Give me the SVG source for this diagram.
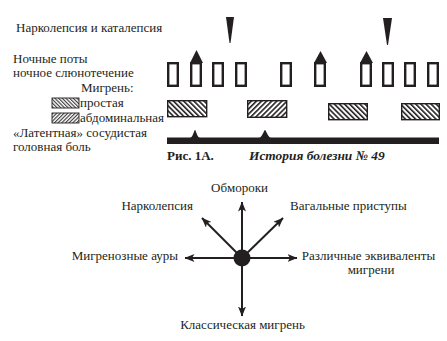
<svg xmlns="http://www.w3.org/2000/svg" width="447" height="341" viewBox="0 0 447 341">
<style>
text{font-family:"Liberation Serif","Times New Roman",serif;font-size:13px;fill:#231f20}
.cap{font-weight:bold;font-size:13px}
.capi{font-weight:bold;font-style:italic;font-size:13.4px}
.ep{fill:#fff;stroke:#231f20;stroke-width:2.4}
.tri{fill:#231f20}
.hs{fill:url(#hS);stroke:#231f20;stroke-width:1.4}
.ha{fill:url(#hA);stroke:#231f20;stroke-width:1.4}
.ls{fill:url(#lS);stroke:#231f20;stroke-width:0.9}
.la{fill:url(#lA);stroke:#231f20;stroke-width:0.9}
.arr{stroke:#231f20;stroke-width:2;fill:none;marker-end:url(#ah)}
</style>
<defs>
<pattern id="hS" width="3.6" height="3.6" patternUnits="userSpaceOnUse" patternTransform="rotate(-45)"><rect width="3.6" height="3.6" fill="#fff"/><line x1="0.8" y1="0" x2="0.8" y2="3.6" stroke="#231f20" stroke-width="1.6"/></pattern>
<pattern id="hA" width="3.6" height="3.6" patternUnits="userSpaceOnUse" patternTransform="rotate(45)"><rect width="3.6" height="3.6" fill="#fff"/><line x1="0.8" y1="0" x2="0.8" y2="3.6" stroke="#231f20" stroke-width="1.6"/></pattern>
<pattern id="lS" width="2.6" height="2.6" patternUnits="userSpaceOnUse" patternTransform="rotate(-45)"><rect width="2.6" height="2.6" fill="#fff"/><line x1="0.6" y1="0" x2="0.6" y2="2.6" stroke="#231f20" stroke-width="1"/></pattern>
<pattern id="lA" width="2.6" height="2.6" patternUnits="userSpaceOnUse" patternTransform="rotate(45)"><rect width="2.6" height="2.6" fill="#fff"/><line x1="0.6" y1="0" x2="0.6" y2="2.6" stroke="#231f20" stroke-width="1"/></pattern>
<marker id="ah" viewBox="0 0 10 8" refX="9.5" refY="4" markerWidth="10" markerHeight="8" markerUnits="userSpaceOnUse" orient="auto"><path d="M0,0 L10,4 L0,8 L2.5,4 Z" fill="#231f20"/></marker>
</defs>
<rect width="447" height="341" fill="#fff"/>

<g id="legend">
<text x="16" y="32">Нарколепсия и каталепсия</text>
<text x="13" y="63">Ночные поты</text>
<text x="13" y="77">ночное слюнотечение</text>
<text x="81" y="92">Мигрень:</text>
<rect class="ls" x="52" y="98" width="27" height="10"/>
<text x="80" y="107">простая</text>
<rect class="la" x="52" y="113" width="27" height="10"/>
<text x="80" y="122">абдоминальная</text>
<text x="13" y="137">«Латентная» сосудистая</text>
<text x="13" y="151">головная боль</text>
</g>

<g id="narcolepsy">
<path class="tri" d="M226,17 L234,17 L230.5,43 L229.5,43 Z"/>
<path class="tri" d="M383,18 L392,18 L388,45 L387,45 Z"/>
</g>

<g id="sweats">
<rect class="ep" x="168.2" y="63.2" width="9.6" height="22.6"/>
<rect class="ep" x="191.2" y="63.2" width="9.6" height="22.6"/>
<rect class="ep" x="213.2" y="63.2" width="9.6" height="22.6"/>
<rect class="ep" x="236.2" y="63.2" width="9.6" height="22.6"/>
<rect class="ep" x="281.2" y="63.2" width="9.6" height="22.6"/>
<rect class="ep" x="315.2" y="63.2" width="9.6" height="22.6"/>
<rect class="ep" x="361.2" y="63.2" width="9.6" height="22.6"/>
<rect class="ep" x="383.2" y="63.2" width="9.6" height="22.6"/>
<rect class="ep" x="405.2" y="63.2" width="9.6" height="22.6"/>
<rect class="ep" x="428.2" y="63.2" width="9.6" height="22.6"/>
<path class="tri" d="M190,63 L203,63 L196.5,50 Z"/>
<path class="tri" d="M314,63 L327,63 L320.5,51 Z"/>
<path class="tri" d="M360,63 L373,63 L366.5,51 Z"/>
</g>

<g id="migraine">
<rect class="hs" x="167.7" y="100.7" width="39" height="16"/>
<rect class="ha" x="247.7" y="100.7" width="39" height="16.6"/>
<rect class="hs" x="328.7" y="103.7" width="38.6" height="16"/>
<rect class="hs" x="401.7" y="103.7" width="37.6" height="16"/>
</g>

<g id="headache">
<rect x="167" y="137.5" width="272" height="6.5" fill="#231f20"/>
<path class="tri" d="M190,138 C193,137.5 194,130 195,130 C196,130 197,137.5 200,138 Z"/>
<path class="tri" d="M259,138 C262,137.5 264,130 265,130 C266,130 268,137.5 271,138 Z"/>
</g>

<g id="caption">
<text class="cap" x="167" y="160">Рис. 1А.</text>
<text class="capi" x="249" y="160">История болезни № 49</text>
</g>

<g id="connectors">
<line class="arr" x1="242" y1="258" x2="242" y2="202"/>
<line class="arr" x1="242" y1="258" x2="242" y2="316"/>
<line class="arr" x1="242" y1="258" x2="185" y2="258"/>
<line class="arr" x1="242" y1="258" x2="297" y2="258"/>
<line class="arr" x1="242" y1="258" x2="202" y2="218"/>
<line class="arr" x1="242" y1="258" x2="283" y2="218"/>
</g>

<g id="center"><circle cx="242" cy="258" r="8.5" fill="#231f20"/></g>
<g id="n-syncope"><text x="239.5" y="192" text-anchor="middle">Обмороки</text></g>
<g id="n-narcolepsy"><text x="193" y="210" text-anchor="end">Нарколепсия</text></g>
<g id="n-vagal"><text x="290" y="210">Вагальные приступы</text></g>
<g id="n-aura"><text x="178" y="260" text-anchor="end">Мигренозные ауры</text></g>
<g id="n-equiv"><text x="368.5" y="260" text-anchor="middle">Различные эквиваленты</text><text x="371" y="274" text-anchor="middle">мигрени</text></g>
<g id="n-classic"><text x="242.5" y="329" text-anchor="middle">Классическая мигрень</text></g>
</svg>
